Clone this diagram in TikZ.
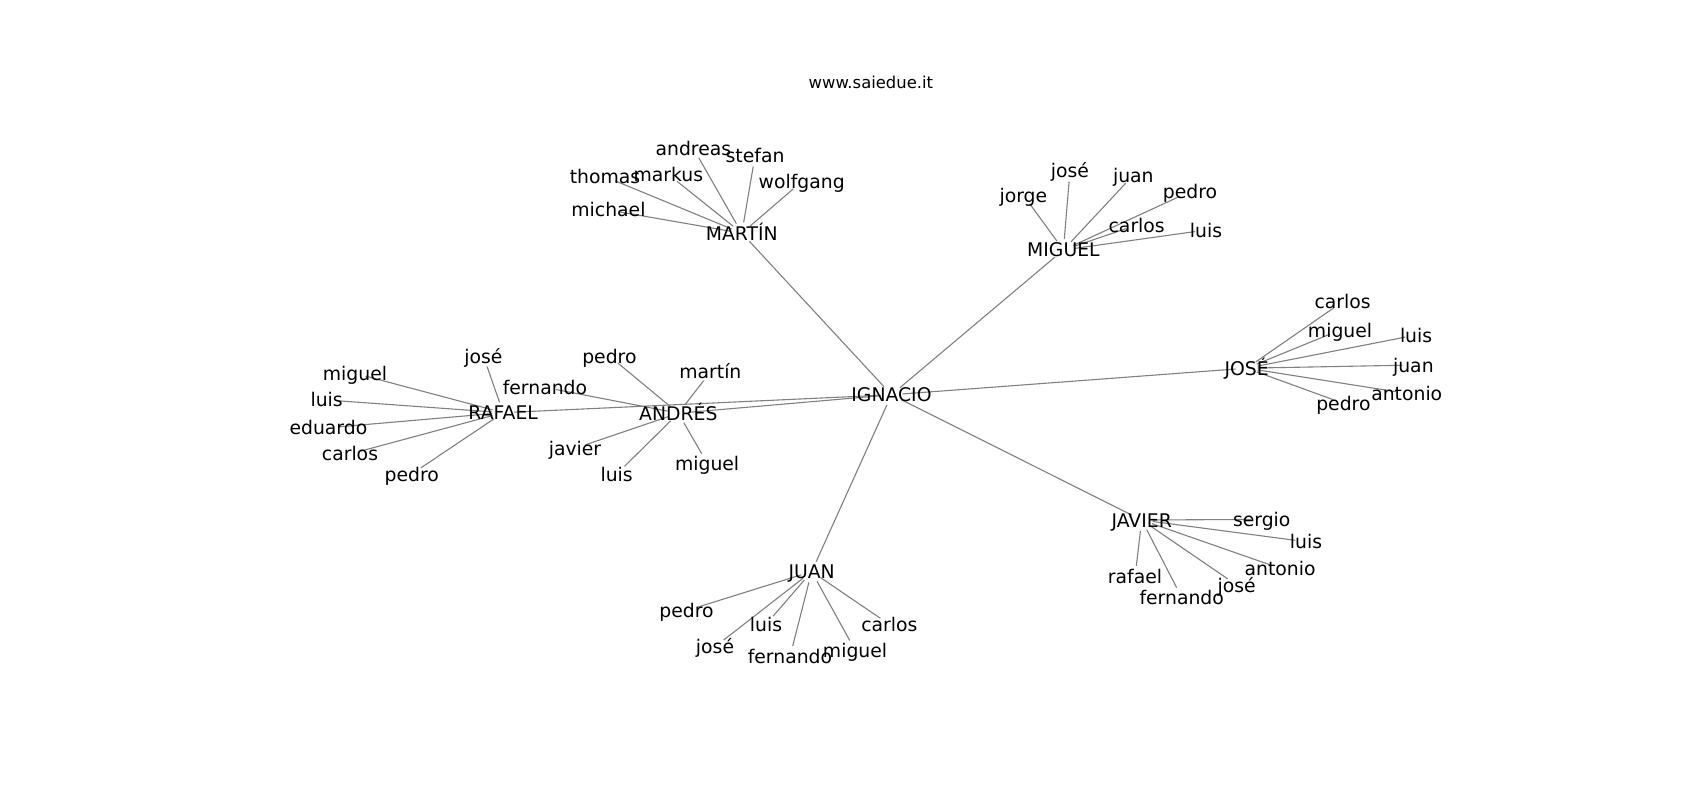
\documentclass[tikz,border=0pt]{standalone}
\usepackage{fontspec}
\setmainfont{DejaVu Sans}
\usetikzlibrary{backgrounds}
\definecolor{edgegray}{RGB}{128,128,128}
\begin{document}
\begin{tikzpicture}[x=1.0845pt,y=-1.0845pt,
  lbl/.style={inner sep=0pt,font=\fontsize{18.8}{22}\selectfont,text height=14pt,text depth=0pt,anchor=center},
  ttl/.style={inner sep=0pt,font=\fontsize{16.4}{20}\selectfont,text height=12pt,text depth=0pt,anchor=center},
  edge/.style={draw=edgegray,line width=1.1pt,shorten <=11pt,shorten >=11pt}]
\useasboundingbox (0,0) rectangle (1567.5,737.7);
\node[ttl] (title) at (803,76) {www.saiedue.it};
% hubs
\node[lbl] (I)  at (822,364) {IGNACIO};
\node[lbl] (MA) at (684,215) {MARTÍN};
\node[lbl] (MI) at (980.5,230.5) {MIGUEL};
\node[lbl] (JO) at (1149.5,339.5) {JOSÉ};
\node[lbl] (JA) at (1052.7,479.5) {JAVIER};
\node[lbl] (JU) at (748.4,527) {JUAN};
\node[lbl] (AN) at (625.5,381) {ANDRÉS};
\node[lbl] (RA) at (464,380.5) {RAFAEL};
% MARTIN leaves
\node[lbl] (MA1) at (639.3,136.8) {andreas};
\node[lbl] (MA2) at (696.2,143.5) {stefan};
\node[lbl] (MA3) at (557.9,162.9) {thomas};
\node[lbl] (MA4) at (616.3,160.8) {markus};
\node[lbl] (MA5) at (739.2,167.5) {wolfgang};
\node[lbl] (MA6) at (561,193.6) {michael};
% MIGUEL leaves
\node[lbl] (MI1) at (986.6,157.4) {josé};
\node[lbl] (MI2) at (1045,161.4) {juan};
\node[lbl] (MI3) at (943.6,179.8) {jorge};
\node[lbl] (MI4) at (1097.3,176.7) {pedro};
\node[lbl] (MI5) at (1048.1,207.5) {carlos};
\node[lbl] (MI6) at (1112,212.1) {luis};
% JOSE leaves
\node[lbl] (JO1) at (1238,278.2) {carlos};
\node[lbl] (JO2) at (1235.6,304.3) {miguel};
\node[lbl] (JO3) at (1305.7,308.9) {luis};
\node[lbl] (JO4) at (1303.2,336.6) {juan};
\node[lbl] (JO5) at (1297.1,362.7) {antonio};
\node[lbl] (JO6) at (1238.7,371.9) {pedro};
% JAVIER leaves
\node[lbl] (JA1) at (1163.4,478.9) {sergio};
\node[lbl] (JA2) at (1204.2,499.5) {luis};
\node[lbl] (JA3) at (1180.3,524) {antonio};
\node[lbl] (JA4) at (1140.3,539.4) {josé};
\node[lbl] (JA5) at (1046.6,531.8) {rafael};
\node[lbl] (JA6) at (1089.6,550.8) {fernando};
% JUAN leaves
\node[lbl] (JU1) at (633,563) {pedro};
\node[lbl] (JU2) at (706.3,575.7) {luis};
\node[lbl] (JU3) at (820,575.7) {carlos};
\node[lbl] (JU4) at (659.3,596.3) {josé};
\node[lbl] (JU5) at (728.4,605.5) {fernando};
\node[lbl] (JU6) at (788.4,599.4) {miguel};
% ANDRES leaves
\node[lbl] (AN1) at (561.9,328.3) {pedro};
\node[lbl] (AN2) at (655,343) {martín};
\node[lbl] (AN3) at (502.5,357.2) {fernando};
\node[lbl] (AN4) at (530.2,413.4) {javier};
\node[lbl] (AN5) at (568.6,437.1) {luis};
\node[lbl] (AN6) at (652,427) {miguel};
% RAFAEL leaves
\node[lbl] (RA1) at (445.7,328.3) {josé};
\node[lbl] (RA2) at (327.3,344.2) {miguel};
\node[lbl] (RA3) at (301.2,368.8) {luis};
\node[lbl] (RA4) at (302.8,394.4) {eduardo};
\node[lbl] (RA5) at (322.7,418.6) {carlos};
\node[lbl] (RA6) at (379.6,437.1) {pedro};
\begin{scope}[on background layer]
\fill[white] (0,0) rectangle (1567.5,737.7);
\foreach \h in {MA,MI,JO,JA,JU,AN,RA}{
  \draw[edge] (I.center) -- (\h.center);
  \foreach \k in {1,...,6}{\draw[edge] (\h.center) -- (\h\k.center);}
}
\end{scope}
\end{tikzpicture}
\end{document}
